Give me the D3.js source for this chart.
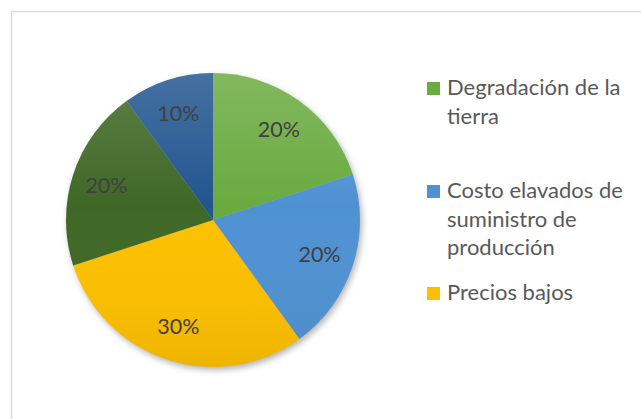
<!DOCTYPE html>
<html>
<head>
<meta charset="utf-8">
<script src="https://cdn.jsdelivr.net/npm/d3@7"></script>
<style>
  body { margin: 0; background: #fff; }
  svg { display: block; }
  text { font-family: Lato, "Open Sans", sans-serif; }
</style>
</head>
<body>
<svg class="chart"></svg>
<script>
var width = 641, height = 419;

// data
var categories = ["Degradación de la tierra", "Costo elavados de suministro de producción",
                  "Precios bajos", "Categoría 4", "Categoría 5"];
var values = [20, 20, 30, 20, 10];
var legendLines = [["Degradación de la", "tierra"],
                   ["Costo elavados de", "suministro de", "producción"],
                   ["Precios bajos"]];
var colors = ["#6aab40", "#4f92d2", "#fdc000", "#3f6826", "#225690"];

var cx = 213, cy = 220, radius = 147;

var svg = d3.select(".chart")
    .attr("width", width)
    .attr("height", height);

// chart area border (runs off the right and bottom edge)
svg.append("rect")
    .attr("x", 11.5).attr("y", 11.5)
    .attr("width", 700).attr("height", 500)
    .attr("fill", "#fff")
    .attr("stroke", "#d9d9d9")
    .attr("stroke-width", 1.5);

var defs = svg.append("defs");

defs.append("filter").attr("id", "blur")
    .attr("x", "-20%").attr("y", "-20%").attr("width", "140%").attr("height", "140%")
  .append("feGaussianBlur").attr("stdDeviation", 3);

// light-to-dark sheen laid over the slices
var sheen = defs.append("linearGradient").attr("id", "sheen")
    .attr("x1", 0).attr("y1", 0).attr("x2", 0).attr("y2", 1);
sheen.append("stop").attr("offset", "0%").attr("stop-color", "#ffffff").attr("stop-opacity", 0.16);
sheen.append("stop").attr("offset", "45%").attr("stop-color", "#ffffff").attr("stop-opacity", 0);
sheen.append("stop").attr("offset", "100%").attr("stop-color", "#000000").attr("stop-opacity", 0.06);

var pie = d3.pie().sort(null).value(function(d) { return d; });
var arcs = pie(values);

var arc = d3.arc().innerRadius(0).outerRadius(radius);
var labelArc = d3.arc().innerRadius(112).outerRadius(112);

var g = svg.append("g")
    .attr("transform", "translate(" + cx + "," + cy + ")");

// soft shadow under the pie
g.append("circle")
    .attr("cx", 2).attr("cy", 3)
    .attr("r", radius)
    .attr("fill", "#000")
    .attr("fill-opacity", 0.3)
    .attr("filter", "url(#blur)");

g.selectAll(".slice")
    .data(arcs)
  .enter().append("path")
    .attr("class", "slice")
    .attr("d", arc)
    .attr("fill", function(d, i) { return colors[i]; });

g.append("circle")
    .attr("r", radius)
    .attr("fill", "url(#sheen)");

g.selectAll(".label")
    .data(arcs)
  .enter().append("text")
    .attr("class", "label")
    .attr("transform", function(d) { return "translate(" + labelArc.centroid(d) + ")"; })
    .attr("text-anchor", "middle")
    .attr("dy", "0.36em")
    .style("font-size", "21.5px")
    .style("fill", "#404040")
    .text(function(d) { return d.data + "%"; });

// legend
var legendY = [95, 198, 300];
var legend = svg.selectAll(".legend")
    .data(legendLines)
  .enter().append("g")
    .attr("class", "legend")
    .attr("transform", function(d, i) { return "translate(427," + legendY[i] + ")"; });

legend.append("rect")
    .attr("x", 0).attr("y", -13)
    .attr("width", 13).attr("height", 13)
    .attr("fill", function(d, i) { return colors[i]; });

legend.append("text")
    .style("font-size", "22px")
    .style("fill", "#595959")
  .selectAll("tspan")
    .data(function(d) { return d; })
  .enter().append("tspan")
    .attr("x", 20)
    .attr("y", function(d, j) { return j * 28.5; })
    .text(function(d) { return d; });
</script>
</body>
</html>
